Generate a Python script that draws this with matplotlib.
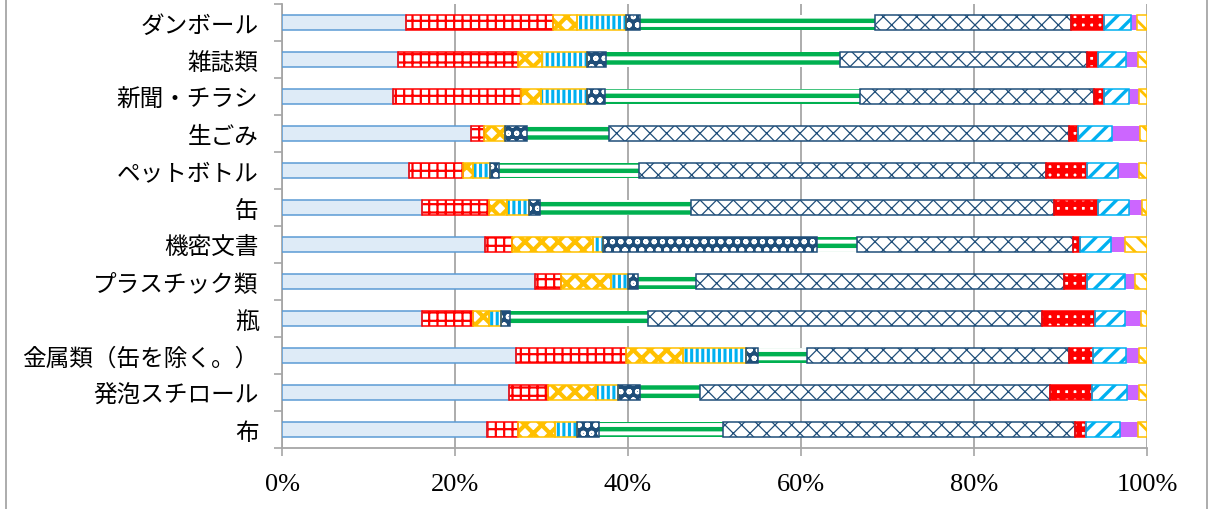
import matplotlib
matplotlib.use("Agg")
import matplotlib.pyplot as plt
import numpy as np
from matplotlib.lines import Line2D
from matplotlib.ticker import FixedLocator

categories = ["ダンボール", "雑誌類", "新聞・チラシ", "生ごみ", "ペットボトル", "缶",
              "機密文書", "プラスチック類", "瓶", "金属類（缶を除く。）", "発泡スチロール", "布"]

# eleven stacked series, one value per category (percent of total)
s1 = [14.3, 13.4, 12.8, 21.9, 14.7, 16.2, 23.5, 29.2, 16.2, 27.0, 26.2, 23.7]
s2 = [17.0, 13.9, 14.8, 1.4, 6.2, 7.7, 3.1, 3.1, 5.9, 12.8, 4.6, 3.6]
s3 = [2.8, 2.8, 2.3, 2.5, 1.2, 2.1, 9.3, 5.7, 1.8, 6.6, 5.5, 4.3]
s4 = [5.7, 5.2, 5.4, 0.0, 1.9, 2.6, 1.2, 2.0, 1.4, 7.2, 2.5, 2.5]
s5 = [1.6, 2.2, 2.0, 2.5, 1.1, 1.2, 24.7, 1.2, 1.1, 1.4, 2.6, 2.6]
s6 = [27.1, 27.0, 29.5, 9.5, 16.2, 17.5, 4.7, 6.7, 15.9, 5.7, 6.9, 14.3]
s7 = [22.7, 28.6, 27.1, 53.2, 47.0, 42.0, 24.9, 42.5, 45.6, 30.3, 40.5, 40.7]
s8 = [3.8, 1.2, 1.1, 1.0, 4.8, 5.0, 0.9, 2.7, 6.1, 2.8, 4.8, 1.2]
s9 = [3.1, 3.3, 2.9, 4.0, 3.5, 3.6, 3.5, 4.3, 3.5, 3.8, 4.1, 4.0]
s10 = [0.7, 1.4, 1.2, 3.2, 2.5, 1.5, 1.7, 1.2, 1.8, 1.5, 1.4, 2.1]
s11 = [1.2, 1.0, 0.9, 0.8, 0.9, 0.6, 2.5, 1.4, 0.7, 0.9, 0.9, 1.0]
series = [s1, s2, s3, s4, s5, s6, s7, s8, s9, s10, s11]

xticks = [0, 20, 40, 60, 80, 100]
xticklabels = ["0%", "20%", "40%", "60%", "80%", "100%"]

NAVY = "#1F4E79"
GOLD = "#FFC000"
CYAN = "#00B0F0"
RED = "#FF0000"
GREEN = "#00B050"
# face, hatch colour, hatch, hatch width, outline
styles = [
    ("#DEEBF7", "#DEEBF7", None, 1.0, "#5B9BD5"),
    ("white", RED, "++", 1.6, RED),
    ("white", GOLD, "xx", 3.0, GOLD),
    ("white", CYAN, "|||", 2.2, GOLD),
    (NAVY, "white", "oo", 1.4, NAVY),
    ("white", GREEN, "--", 3.2, None),
    ("white", NAVY, "xx", 0.9, NAVY),
    ("white", RED, "++", 4.0, RED),
    ("white", CYAN, "//", 2.4, CYAN),
    ("#CC66FF", "#CC66FF", None, 1.0, None),
    ("white", GOLD, "\\\\", 2.0, GOLD),
]

fig = plt.figure(figsize=(12.11, 5.10), dpi=100)
ax = fig.add_axes([282 / 1211, 1 - 449 / 510, (1147 - 282) / 1211, 444 / 510])

y = np.arange(len(categories))
left = np.zeros(len(categories))
for vals, (face, hcol, hatch, hlw, outline) in zip(series, styles):
    vals = np.array(vals)
    keep = vals > 0
    with plt.rc_context({"hatch.linewidth": hlw}):
        ax.barh(y[keep], vals[keep], left=left[keep], height=0.42, color=face,
                edgecolor=hcol, hatch=hatch, linewidth=0, zorder=3)
    if outline:
        ax.barh(y[keep], vals[keep], left=left[keep], height=0.42, fill=False,
                edgecolor=outline, linewidth=1.1, zorder=4)
    left += vals

ax.set_xlim(0, 100)
ax.set_ylim(len(categories) - 0.5, -0.5)
ax.set_xticks(xticks)
ax.set_xticklabels(xticklabels, family="Liberation Serif", fontsize=19)
ax.set_yticks(y)
ax.set_yticklabels(categories, family=["Noto Sans CJK JP", "DejaVu Sans"], fontsize=17)
ax.yaxis.set_minor_locator(FixedLocator(np.arange(-0.5, len(categories), 1)))
ax.tick_params(axis="y", which="major", length=0, pad=17)
ax.tick_params(axis="y", which="minor", length=6, color="#A6A6A6", width=1.2)
ax.tick_params(axis="x", length=6, color="#A6A6A6", width=1.2, pad=12)
ax.grid(axis="x", color="#A6A6A6", linewidth=1.3, zorder=0)
for side in ["top", "right"]:
    ax.spines[side].set_visible(False)
for side in ["left", "bottom"]:
    ax.spines[side].set_color("#A6A6A6")
    ax.spines[side].set_linewidth(1.3)

# thin frame round the chart area
for xf in (6 / 1211, 1207 / 1211):
    fig.add_artist(Line2D([xf, xf], [0, 1], color="#A6A6A6", linewidth=1.3))

fig.savefig("out.png", dpi=100)
